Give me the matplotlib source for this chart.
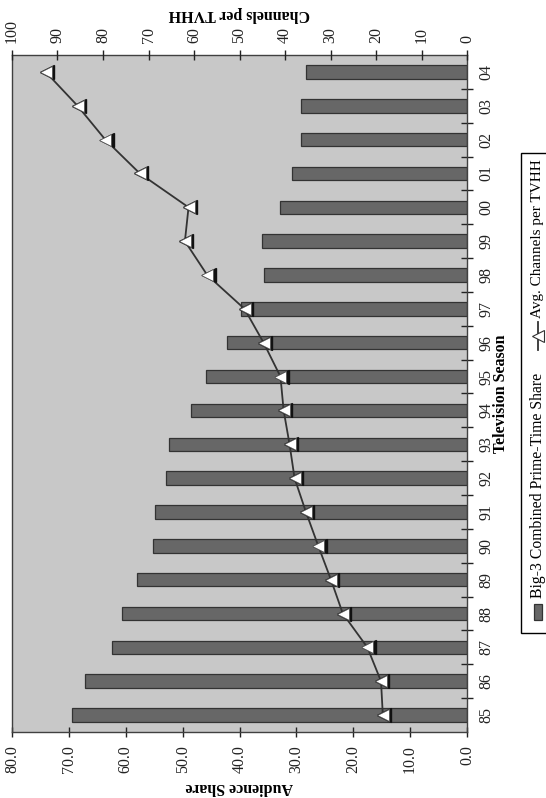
import matplotlib.pyplot as plt
import matplotlib.transforms as mtransforms
from matplotlib.patches import Rectangle
from matplotlib.lines import Line2D

plt.rcParams['font.family'] = ['Liberation Serif', 'DejaVu Serif']

# -----------------------------
# Data
# -----------------------------
seasons = ['85', '86', '87', '88', '89', '90', '91', '92', '93', '94',
           '95', '96', '97', '98', '99', '00', '01', '02', '03', '04']
big3_share = [69.4, 67.2, 62.4, 60.6, 58.1, 55.2, 54.9, 52.9, 52.4, 48.6,
              45.9, 42.2, 39.7, 35.7, 36.1, 32.9, 30.7, 29.1, 29.1, 28.3]
avg_channels = [18.5, 18.9, 21.9, 27.3, 29.9, 32.7, 35.4, 37.9, 39.0, 40.3,
                41.0, 44.7, 48.9, 57.1, 62.0, 61.2, 71.9, 79.5, 85.6, 92.6]
share_ticks = [0, 10, 20, 30, 40, 50, 60, 70, 80]
channel_ticks = [0, 10, 20, 30, 40, 50, 60, 70, 80, 90, 100]

W, H = 546, 798
FS = 11.5
BG = '#c8c8c8'
BAR = '#676767'
EDGE = '#333333'


def fx(px):
    return px / W


def fy(py):
    return 1 - py / H


fig = plt.figure(figsize=(W / 100, H / 100), dpi=100)
# chart is laid out sideways: seasons run up the right side
ax = fig.add_axes([fx(12), fy(732), fx(467) - fx(12), fy(55) - fy(732)])
ax.set_facecolor(BG)

pos = list(range(len(seasons)))
ax.barh(pos, big3_share, height=0.4, color=BAR, edgecolor=EDGE, linewidth=0.9, zorder=2)
ax.set_xlim(80, 0)
ax.set_ylim(-0.5, len(seasons) - 0.5)

ax.set_xticks(share_ticks)
ax.set_xticklabels([f'{v:.1f}' for v in share_ticks], rotation=90, fontsize=FS)
ax.tick_params(axis='x', direction='inout', length=7, width=1, pad=6, colors='#222222')

ax.yaxis.tick_right()
ax.set_yticks(pos)
ax.set_yticklabels(seasons, rotation=90, fontsize=FS, va='center')
ax.set_yticks([p + 0.5 for p in pos[:-1]], minor=True)
ax.tick_params(axis='y', which='major', length=0, pad=8, colors='#222222')
ax.tick_params(axis='y', which='minor', direction='inout', length=8, width=1, colors='#222222')

for s in ax.spines.values():
    s.set_color('#404040')
    s.set_linewidth(1)

# second series on the top axis
ax2 = ax.twiny()
ax2.set_xlim(100, 0)
ax2.set_xticks(channel_ticks)
ax2.set_xticklabels([str(v) for v in channel_ticks], rotation=90, fontsize=FS)
ax2.tick_params(axis='x', direction='inout', length=7, width=1, pad=5, colors='#222222')
ax2.plot(avg_channels, pos, color='#333333', linewidth=1.3, zorder=3)
shadow = mtransforms.offset_copy(ax2.transData, fig=fig, x=1.4, y=0, units='dots')
ax2.plot(avg_channels, pos, linestyle='none', marker='<', markersize=9.5,
         markerfacecolor='#111111', markeredgecolor='#111111', transform=shadow, zorder=4)
ax2.plot(avg_channels, pos, linestyle='none', marker='<', markersize=9,
         markerfacecolor='white', markeredgecolor='#555555', markeredgewidth=0.6, zorder=5)
for s in ax2.spines.values():
    s.set_visible(False)

# axis titles
fig.text(fx(239.5), fy(787), 'Audience Share', rotation=180, ha='center', va='center',
         fontsize=FS, fontweight='bold')
fig.text(fx(239.5), fy(14), 'Channels per TVHH', rotation=180, ha='center', va='center',
         fontsize=FS, fontweight='bold')
fig.text(fx(501), fy(393.5), 'Television Season', rotation=90, ha='center', va='center',
         fontsize=FS, fontweight='bold')

# legend, drawn sideways by hand
fig.patches.append(Rectangle((fx(521), fy(633)), fx(40), (633 - 153) / H,
                             transform=fig.transFigure, facecolor='white',
                             edgecolor='black', linewidth=1))
fig.patches.append(Rectangle((fx(534), fy(620)), fx(8), 16 / H,
                             transform=fig.transFigure, facecolor=BAR,
                             edgecolor=EDGE, linewidth=0.9))
fig.text(fx(538), fy(598), 'Big-3 Combined Prime-Time Share', rotation=90,
         ha='center', va='bottom', fontsize=11.3)
fig.lines.append(Line2D([fx(538), fx(538)], [fy(350), fy(322)], transform=fig.transFigure,
                        color='#333333', linewidth=1.3))
fig.lines.append(Line2D([fx(538)], [fy(336)], transform=fig.transFigure, marker='<',
                        markersize=8, markerfacecolor='white', markeredgecolor='#333333',
                        markeredgewidth=0.8))
fig.text(fx(538), fy(318), 'Avg. Channels per TVHH', rotation=90,
         ha='center', va='bottom', fontsize=11.0)

plt.savefig('out.png', dpi=100)
plt.close()
